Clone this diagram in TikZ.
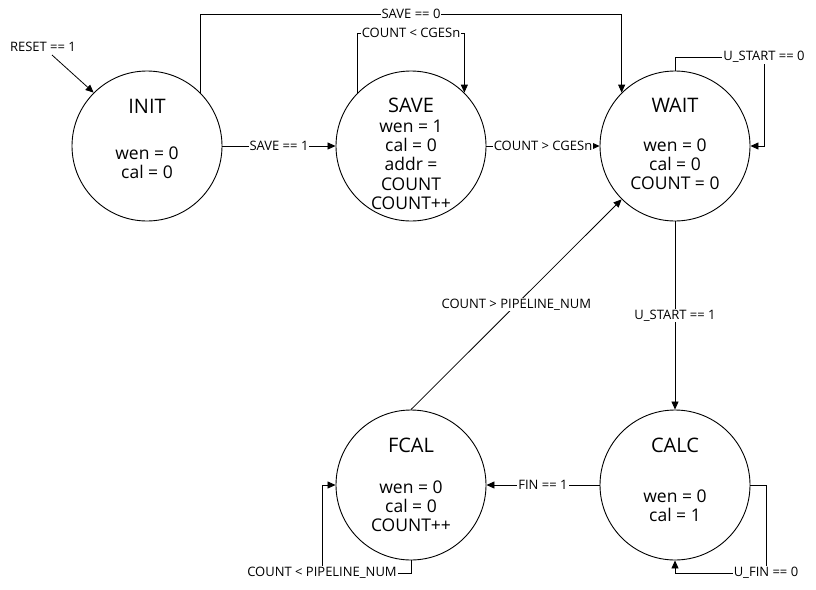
\documentclass[tikz,border=0pt]{standalone}
\usepackage{fontspec}
\setmainfont{Open Sans}
\usetikzlibrary{arrows.meta}
\begin{document}
\begin{tikzpicture}[x=1pt,y=-1pt,
  state/.style={draw=black,line width=0.9pt,circle,minimum size=150pt,inner sep=0pt},
  ttl/.style={font=\fontsize{20}{22}\selectfont,inner sep=0pt},
  body/.style={font=\fontsize{17.5}{19.2}\selectfont,align=center,inner sep=0pt},
  lbl/.style={font=\fontsize{13}{14}\selectfont,fill=white,inner sep=1pt},
  arr/.style={draw=black,line width=0.8pt,-{Triangle[length=8pt,width=7pt]}},
  ln/.style={draw=black,line width=0.8pt}]
\useasboundingbox (0,0) rectangle (816,589);
\fill[white] (0,0) rectangle (816,589);
% states
\node[state] (init) at (147,146) {};
\node[state] (save) at (411,146) {};
\node[state] (wait) at (675,146) {};
\node[state] (fcal) at (411,485) {};
\node[state] (calc) at (675,485) {};
% texts
\node[ttl] (initt) at (147,106) {INIT};
\node[body] (initb) at (147,162.5) {wen = 0\\cal = 0};
\node[ttl] (savet) at (411,105) {SAVE};
\node[body] (saveb) at (411,164.7) {wen = 1\\cal = 0\\addr =\\COUNT\\COUNT++};
\node[ttl] (waitt) at (675,105) {WAIT};
\node[body] (waitb) at (675,164.5) {wen = 0\\cal = 0\\COUNT = 0};
\node[ttl] (fcalt) at (411,445) {FCAL};
\node[body] (fcalb) at (411,506) {wen = 0\\cal = 0\\COUNT++};
\node[ttl] (calct) at (675,445) {CALC};
\node[body] (calcb) at (675,505.5) {wen = 0\\cal = 1};
% coordinates
\coordinate (rs) at (52,55);
\coordinate (top) at (0,14);
\coordinate (stop) at (0,33);
\coordinate (wl) at (764,57);
\coordinate (cl) at (766,573);
\coordinate (fl) at (322,573);
% connectors
\draw[arr] (rs) -- (init.135);
\node[lbl] (resetl) at (43,47) {RESET == 1};
\draw[arr] (init.45) -- (init.45 |- top) -- node[lbl]{SAVE == 0} (wait.135 |- top) -- (wait.135);
\draw[arr] (save.135) -- (save.135 |- stop) -- node[lbl]{COUNT < CGESn} (save.45 |- stop) -- (save.45);
\draw[arr] (init.east) -- node[lbl]{SAVE == 1} (save.west);
\draw[arr] (save.east) -- node[lbl]{COUNT > CGESn} (wait.west);
\draw[arr] (wait.north) |- (wl) -- (wl |- wait.east) -- (wait.east);
\node[lbl] (wll) at (wl) {U\_START == 0};
\draw[arr] (wait.south) -- node[lbl]{U\_START == 1} (calc.north);
\draw[arr] (fcal.north) -- node[lbl]{COUNT > PIPELINE\_NUM} (wait.225);
\draw[arr] (calc.west) -- node[lbl]{FIN == 1} (fcal.east);
\draw[arr] (calc.east) -| (cl) -| (calc.south);
\node[lbl] (cll) at (cl) {U\_FIN == 0};
\draw[arr] (fcal.south) |- (fl) |- (fcal.west);
\node[lbl] (fll) at (fl) {COUNT < PIPELINE\_NUM};
\end{tikzpicture}
\end{document}
